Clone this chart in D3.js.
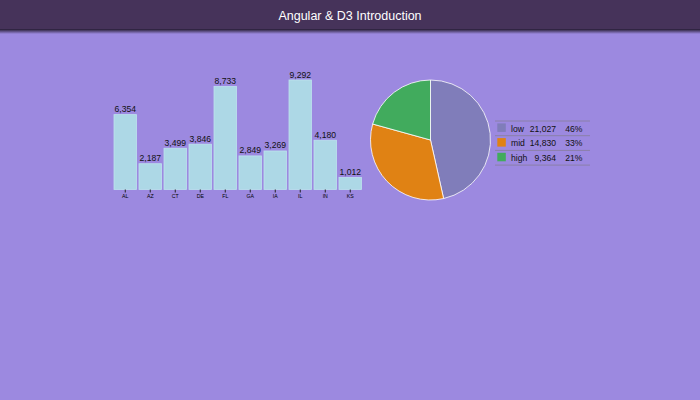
<!DOCTYPE html>
<html>
<head>
<meta charset="utf-8">
<script src="https://cdn.jsdelivr.net/npm/d3@7"></script>
<style>
  body { margin: 0; background: #9c89e0; font-family: Arial, "Liberation Sans", sans-serif; }
  svg { display: block; }
</style>
</head>
<body>
<div id="run"></div>
<script>
var width = 700,
    height = 400;

// per state frequency data
var states = ["AL", "AZ", "CT", "DE", "FL", "GA", "IA", "IL", "IN", "KS"];
var low  = [4786, 1101, 932, 832, 4481, 1619, 1819, 4498, 797, 162];
var mid  = [1319, 412, 2149, 1152, 3304, 167, 247, 3852, 1849, 379];
var high = [249, 674, 418, 1862, 948, 1063, 1203, 942, 1534, 471];
var segments = ["low", "mid", "high"];
var segColors = ["#807dba", "#e08214", "#41ab5d"];

var totals = states.map(function(s, i) { return low[i] + mid[i] + high[i]; });
var segTotals = [d3.sum(low), d3.sum(mid), d3.sum(high)];
var grand = d3.sum(segTotals);

var svg = d3.select("#run").append("svg")
    .attr("width", width)
    .attr("height", height);

// header bar
var defs = svg.append("defs");
var grad = defs.append("linearGradient")
    .attr("id", "shadow")
    .attr("x1", 0).attr("y1", 0).attr("x2", 0).attr("y2", 1);
grad.append("stop").attr("offset", "0%").attr("stop-color", "#241a30");
grad.append("stop").attr("offset", "100%").attr("stop-color", "#9c89e0");

svg.append("rect")
    .attr("x", 0).attr("y", 29)
    .attr("width", width).attr("height", 5)
    .attr("fill", "url(#shadow)");
svg.append("rect")
    .attr("x", 0).attr("y", 0)
    .attr("width", width).attr("height", 29)
    .attr("fill", "#46335a");
svg.append("text")
    .attr("x", width / 2).attr("y", 19.5)
    .attr("text-anchor", "middle")
    .attr("fill", "#fff")
    .style("font-size", "12.5px")
    .text("Angular & D3 Introduction");

// histogram
var x = d3.scaleBand()
    .domain(states)
    .range([111.5, 364])
    .padding(0.1);

var y = d3.scaleLinear()
    .domain([0, d3.max(totals)])
    .range([189.5, 80]);

var bars = svg.append("g").attr("class", "bars");

bars.selectAll("rect")
    .data(states)
    .enter().append("rect")
    .attr("x", function(d) { return x(d); })
    .attr("y", function(d, i) { return y(totals[i]); })
    .attr("width", x.bandwidth())
    .attr("height", function(d, i) { return y(0) - y(totals[i]); })
    .attr("fill", "#add8e6")
    .attr("stroke", "#bde3ee")
    .attr("stroke-width", 0.8);

bars.selectAll("text")
    .data(states)
    .enter().append("text")
    .attr("x", function(d) { return x(d) + x.bandwidth() / 2; })
    .attr("y", function(d, i) { return y(totals[i]) - 2.5; })
    .attr("text-anchor", "middle")
    .attr("fill", "#111")
    .style("font-size", "8.6px")
    .text(function(d, i) { return d3.format(",")(totals[i]); });

var xAxis = svg.append("g")
    .attr("transform", "translate(0," + y(0) + ")")
    .call(d3.axisBottom(x).tickSizeInner(3).tickSizeOuter(0).tickPadding(1.5));
xAxis.select(".domain").remove();
xAxis.selectAll("text").style("font-size", "5.2px").attr("fill", "#000");
xAxis.selectAll("line").attr("stroke", "#222");

// pie chart
var pie = d3.pie().sort(null);
var arc = d3.arc().innerRadius(0).outerRadius(60);

var pieG = svg.append("g")
    .attr("transform", "translate(430.5,140)");

pieG.selectAll("path")
    .data(pie(segTotals))
    .enter().append("path")
    .attr("d", arc)
    .attr("fill", function(d, i) { return segColors[i]; })
    .attr("stroke", "#fff")
    .attr("stroke-width", 0.8);

// legend table
var rowH = 14.7,
    legTop = 121,
    legLeft = 495,
    legRight = 590;

var leg = svg.append("g");

leg.selectAll("line")
    .data(d3.range(segments.length + 1))
    .enter().append("line")
    .attr("x1", legLeft).attr("x2", legRight)
    .attr("y1", function(d) { return legTop + d * rowH; })
    .attr("y2", function(d) { return legTop + d * rowH; })
    .attr("stroke", "#8a80a8")
    .attr("stroke-width", 1);

var rows = leg.selectAll("g.row")
    .data(segments)
    .enter().append("g")
    .attr("class", "row")
    .attr("transform", function(d, i) { return "translate(0," + (legTop + i * rowH) + ")"; });

rows.append("rect")
    .attr("x", 497.3).attr("y", 2.4)
    .attr("width", 8.5).attr("height", 8.5)
    .attr("fill", function(d, i) { return segColors[i]; });

rows.append("text")
    .attr("x", 511).attr("y", 10.6)
    .attr("fill", "#111")
    .style("font-size", "8.6px")
    .text(function(d) { return d; });

rows.append("text")
    .attr("x", 556).attr("y", 10.6)
    .attr("text-anchor", "end")
    .attr("fill", "#111")
    .style("font-size", "8.6px")
    .text(function(d, i) { return d3.format(",")(segTotals[i]); });

rows.append("text")
    .attr("x", 582.5).attr("y", 10.6)
    .attr("text-anchor", "end")
    .attr("fill", "#111")
    .style("font-size", "8.6px")
    .text(function(d, i) { return d3.format(".0%")(segTotals[i] / grand); });
</script>
</body>
</html>
